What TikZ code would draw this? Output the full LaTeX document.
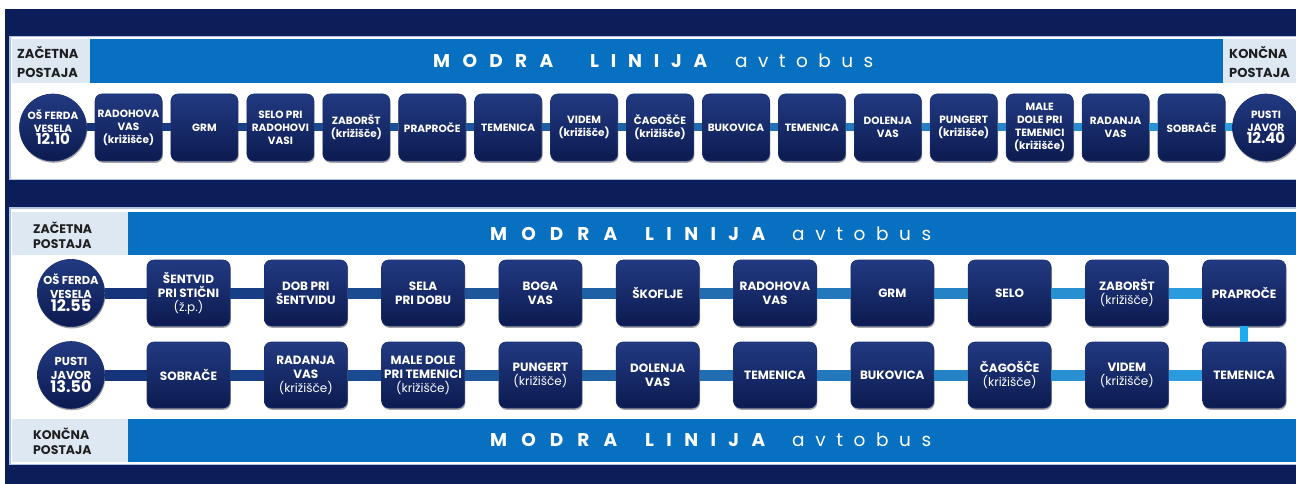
\documentclass[tikz,border=0pt]{standalone}
\usepackage{fontspec}
\setmainfont{Poppins}
\usetikzlibrary{shadows}
\definecolor{navyc}{RGB}{11,30,90}
\definecolor{bandc}{RGB}{8,112,192}
\definecolor{labc}{RGB}{222,232,243}
\definecolor{framec}{RGB}{175,195,225}
\definecolor{ntop}{RGB}{34,58,130}
\definecolor{nbot}{RGB}{12,27,80}
\definecolor{nedge}{RGB}{26,46,112}
\definecolor{cdark}{RGB}{22,52,122}
\definecolor{clight}{RGB}{42,155,220}
\definecolor{cvert}{RGB}{30,172,240}
\begin{document}
\begin{tikzpicture}[x=1pt,y=-1pt,
  stopnode/.style={rounded corners=7pt, top color=ntop, bottom color=nbot, draw=nedge, line width=0.6pt,
    text=white, align=center, inner sep=1pt,
    drop shadow={shadow xshift=0.8pt, shadow yshift=-1.8pt, opacity=0.35, fill=black}},
  boxa/.style={stopnode, minimum width=67pt, minimum height=67pt, font=\bfseries\fontsize{10.5}{13}\selectfont},
  boxb/.style={stopnode, minimum width=83pt, minimum height=66pt, font=\bfseries\fontsize{12}{14}\selectfont},
  circa/.style={stopnode, circle, inner sep=0pt, minimum size=67pt, font=\bfseries\fontsize{10.5}{12.5}\selectfont},
  circb/.style={stopnode, circle, inner sep=0pt, minimum size=67pt, font=\bfseries\fontsize{11.5}{13.5}\selectfont},
  lbl/.style={inner sep=0pt, align=left, text=black!88, font=\bfseries\fontsize{13}{18.5}\selectfont},
  lblb/.style={inner sep=0pt, align=left, text=black!88, font=\bfseries\fontsize{12.5}{15}\selectfont},
  ttlb/.style={inner sep=0pt, text=white, font=\bfseries\fontsize{18.5}{20}\selectfont},
  ttlr/.style={inner sep=0pt, text=white, font=\fontsize{18.5}{20}\selectfont},
  conna/.style={line width=8pt},
  connb/.style={line width=11pt}
]
\useasboundingbox (0,0) rectangle (1296,484);
\clip (0,0) rectangle (1296,484);
\fill[white] (0,0) rectangle (1296,484);
\fill[navyc] (5,9) rectangle (1310,490);

% ---------- top panel ----------
\filldraw[fill=white, draw=framec, line width=1.6pt] (10,36.5) rectangle (1320,179.5);
\fill[labc] (12,39) rectangle (90,83);
\fill[bandc] (90,39) rectangle (1223,83);
\fill[labc] (1223,39) rectangle (1320,83);
\node[lbl, anchor=west] (lz1) at (17,62) {ZAČETNA\\POSTAJA};
\node[lbl, anchor=west] (lk1) at (1229,62) {KONČNA\\POSTAJA};
\node[ttlb, anchor=base west] (a1) at (433,68) {\makebox[120pt][s]{M\hfil O\hfil D\hfil R\hfil A}};
\node[ttlb, anchor=base west] (b1) at (590,68) {\makebox[117pt][s]{L\hfil I\hfil N\hfil I\hfil J\hfil A}};
\node[ttlr, anchor=base west] (c1) at (735,68) {\makebox[138pt][s]{a\hfil v\hfil t\hfil o\hfil b\hfil u\hfil s}};

\node[circa] (T0) at (53,127.5) {OŠ FERDA\\VESELA\\{\fontsize{15}{16}\selectfont 12.10}};
\node[boxa] (T1) at (128.5,127.5) {RADOHOVA\\VAS\\(križišče)};
\node[boxa] (T2) at (204.4,127.5) {GRM};
\node[boxa] (T3) at (280.4,127.5) {SELO PRI\\RADOHOVI\\VASI};
\node[boxa] (T4) at (356.3,127.5) {ZABORŠT\\(križišče)};
\node[boxa] (T5) at (432.2,127.5) {PRAPROČE};
\node[boxa] (T6) at (508.2,127.5) {TEMENICA};
\node[boxa] (T7) at (584.1,127.5) {VIDEM\\(križišče)};
\node[boxa] (T8) at (660.0,127.5) {ČAGOŠČE\\(križišče)};
\node[boxa] (T9) at (736.0,127.5) {BUKOVICA};
\node[boxa] (T10) at (811.9,127.5) {TEMENICA};
\node[boxa] (T11) at (887.8,127.5) {DOLENJA\\VAS};
\node[boxa] (T12) at (963.7,127.5) {PUNGERT\\(križišče)};
\node[boxa] (T13) at (1039.7,127.5) {MALE\\DOLE PRI\\TEMENICI\\(križišče)};
\node[boxa] (T14) at (1115.6,127.5) {RADANJA\\VAS};
\node[boxa] (T15) at (1191.5,127.5) {SOBRAČE};
\node[circa] (T16) at (1266,127.5) {PUSTI\\JAVOR\\{\fontsize{15}{16}\selectfont 12.40}};
\foreach \i in {1,...,16} {
  \pgfmathtruncatemacro\j{\i-1}
  \pgfmathtruncatemacro\p{100*(\i-1)/15}
  \draw[conna, color=clight!\p!cdark] (T\j) -- (T\i);
}

% ---------- bottom panel ----------
\filldraw[fill=white, draw=framec, line width=1.6pt] (10,208) rectangle (1320,464.5);
\fill[labc] (12,212) rectangle (128,255);
\fill[bandc] (128,212) rectangle (1320,255);
\fill[labc] (12,419) rectangle (128,462);
\fill[bandc] (128,419) rectangle (1320,462);
\node[lblb, anchor=west] (lz2) at (33,235) {ZAČETNA\\POSTAJA};
\node[lblb, anchor=west] (lk2) at (33,441) {KONČNA\\POSTAJA};
\node[ttlb, anchor=base west] (a2) at (490,240) {\makebox[127pt][s]{M\hfil O\hfil D\hfil R\hfil A}};
\node[ttlb, anchor=base west] (b2) at (645,240) {\makebox[120pt][s]{L\hfil I\hfil N\hfil I\hfil J\hfil A}};
\node[ttlr, anchor=base west] (c2) at (792,240) {\makebox[139pt][s]{a\hfil v\hfil t\hfil o\hfil b\hfil u\hfil s}};
\node[ttlb, anchor=base west] (a3) at (490,446) {\makebox[127pt][s]{M\hfil O\hfil D\hfil R\hfil A}};
\node[ttlb, anchor=base west] (b3) at (645,446) {\makebox[120pt][s]{L\hfil I\hfil N\hfil I\hfil J\hfil A}};
\node[ttlr, anchor=base west] (c3) at (792,446) {\makebox[139pt][s]{a\hfil v\hfil t\hfil o\hfil b\hfil u\hfil s}};

\node[circb] (B0) at (71,293) {OŠ FERDA\\VESELA\\{\fontsize{16}{17}\selectfont 12.55}};
\node[boxb] (B1) at (188.5,293) {ŠENTVID\\PRI STIČNI\\{\mdseries (ž.p.)}};
\node[boxb] (B2) at (305.8,293) {DOB PRI\\ŠENTVIDU};
\node[boxb] (B3) at (423.1,293) {SELA\\PRI DOBU};
\node[boxb] (B4) at (540.4,293) {BOGA\\VAS};
\node[boxb] (B5) at (657.7,293) {ŠKOFLJE};
\node[boxb] (B6) at (775.0,293) {RADOHOVA\\VAS};
\node[boxb] (B7) at (892.3,293) {GRM};
\node[boxb] (B8) at (1009.6,293) {SELO};
\node[boxb] (B9) at (1126.9,293) {ZABORŠT\\{\mdseries (križišče)}};
\node[boxb] (B10) at (1244.2,293) {PRAPROČE};

\node[circb] (C0) at (71,375) {PUSTI\\JAVOR\\{\fontsize{16}{17}\selectfont 13.50}};
\node[boxb] (C1) at (188.5,375) {SOBRAČE};
\node[boxb] (C2) at (305.8,375) {RADANJA\\VAS\\{\mdseries (križišče)}};
\node[boxb] (C3) at (423.1,375) {MALE DOLE\\PRI TEMENICI\\{\mdseries (križišče)}};
\node[boxb] (C4) at (540.4,375) {PUNGERT\\{\mdseries (križišče)}};
\node[boxb] (C5) at (657.7,375) {DOLENJA\\VAS};
\node[boxb] (C6) at (775.0,375) {TEMENICA};
\node[boxb] (C7) at (892.3,375) {BUKOVICA};
\node[boxb] (C8) at (1009.6,375) {ČAGOŠČE\\{\mdseries (križišče)}};
\node[boxb] (C9) at (1126.9,375) {VIDEM\\{\mdseries (križišče)}};
\node[boxb] (C10) at (1244.2,375) {TEMENICA};

\foreach \i in {1,...,10} {
  \pgfmathtruncatemacro\j{\i-1}
  \pgfmathtruncatemacro\p{100*(\i-1)/9}
  \draw[connb, color=clight!\p!cdark] (B\j) -- (B\i);
  \draw[connb, color=clight!\p!cdark] (C\i) -- (C\j);
}
\draw[conna, color=cvert] (B10) -- (C10);
\end{tikzpicture}
\end{document}
